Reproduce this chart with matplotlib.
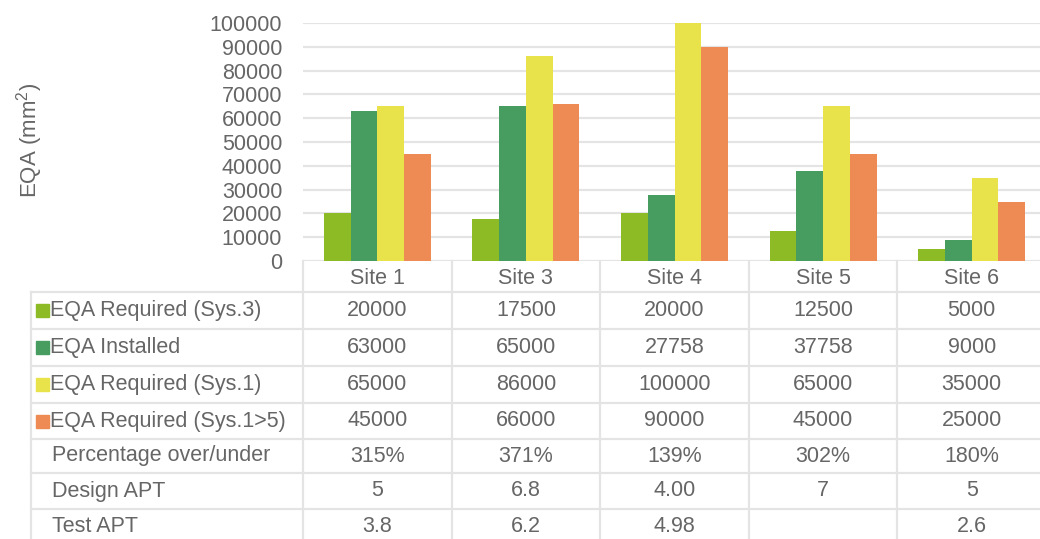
import numpy as np
import matplotlib.pyplot as plt

plt.rcParams['font.family'] = ['Liberation Sans', 'DejaVu Sans']
plt.rcParams['mathtext.fontset'] = 'custom'
plt.rcParams['mathtext.rm'] = 'Liberation Sans'

sites = ["Site 1", "Site 3", "Site 4", "Site 5", "Site 6"]
series_names = ["EQA Required (Sys.3)", "EQA Installed",
                "EQA Required (Sys.1)", "EQA Required (Sys.1>5)"]
req_sys3 = [20000, 17500, 20000, 12500, 5000]
installed = [63000, 65000, 27758, 37758, 9000]
req_sys1 = [65000, 86000, 100000, 65000, 35000]
req_sys1_5 = [45000, 66000, 90000, 45000, 25000]
design_apt = ["5", "6.8", "4.00", "7", "5"]
test_apt = ["3.8", "6.2", "4.98", "", "2.6"]
yticks = np.arange(0, 100001, 10000)

colors = ["#8CBB26", "#479D60", "#E8E34A", "#EE8B54"]
text_col = "#666666"
line_col = "#E4E4E4"
fs = 15.5

series = [req_sys3, installed, req_sys1, req_sys1_5]
pct = ["{:.0f}%".format(100 * i / r) for i, r in zip(installed, req_sys3)]

W, H = 1040, 539
fig = plt.figure(figsize=(W / 100, H / 100), dpi=100)

# bar area
ax_l, ax_r, ax_t, ax_b = 303, 1046, 23, 261
ax = fig.add_axes([ax_l / W, (H - ax_b) / H, (ax_r - ax_l) / W, (ax_b - ax_t) / H])
x = np.arange(len(sites))
bw = 0.18
for i, (vals, c) in enumerate(zip(series, colors)):
    ax.bar(x + (i - 1.5) * bw, vals, bw, color=c, zorder=2)
ax.set_xlim(-0.5, len(sites) - 0.5)
ax.set_ylim(0, 100000)
ax.set_yticks(yticks)
ax.set_yticklabels([str(v) for v in yticks], fontsize=fs, color=text_col)
ax.set_xticks([])
ax.tick_params(axis='y', length=0, pad=15)
ax.yaxis.grid(True, color=line_col, linewidth=1.6)
ax.set_axisbelow(True)
for s in ax.spines.values():
    s.set_visible(False)
fig.text(30 / W, (H - 140) / H, r"EQA (mm$^2$)", rotation=90, fontsize=16,
         color=text_col, ha='center', va='center')

# data table below the bars
tab_l, tab_b = 31, 545
unit = (ax_r - ax_l) / len(sites)
x_left = -0.5 - (ax_l - tab_l) / unit
tab = fig.add_axes([tab_l / W, (H - tab_b) / H, (ax_r - tab_l) / W, (tab_b - ax_b) / H])
tab.set_xlim(x_left, len(sites) - 0.5)
bounds = [0, 31, 68, 105, 142, 178, 212, 248, tab_b - ax_b]
tab.set_ylim(bounds[-1], 0)
tab.axis('off')

for k in range(len(sites) + 1):
    tab.plot([k - 0.5, k - 0.5], [0, bounds[-1]], color=line_col, lw=1.6, clip_on=False)
tab.plot([x_left, x_left], [bounds[1], bounds[-1]], color=line_col, lw=1.6, clip_on=False)
for b in bounds[1:-1]:
    tab.plot([x_left, len(sites) - 0.5], [b, b], color=line_col, lw=1.6, clip_on=False)

for j, s in enumerate(sites):
    tab.text(j, (bounds[0] + bounds[1]) / 2 + 1.5, s, ha='center', va='center',
             fontsize=fs, color=text_col)

rows = [[str(v) for v in vals] for vals in series] + [pct, design_apt, test_apt]
labels = series_names + ["Percentage over/under", "Design APT", "Test APT"]
txt_x = x_left + (50 - tab_l) / unit
key_w = 13 / unit
for r, (lab, vals) in enumerate(zip(labels, rows)):
    yc = (bounds[r + 1] + bounds[r + 2]) / 2
    if r < len(colors):
        tab.add_patch(plt.Rectangle((txt_x - key_w - 1 / unit, yc - 6.5), key_w, 13,
                                    color=colors[r], clip_on=False))
        tab.text(txt_x, yc, lab, ha='left', va='center', fontsize=fs, color=text_col)
    else:
        tab.text(txt_x + 2 / unit, yc, lab, ha='left', va='center', fontsize=fs, color=text_col)
    for j, v in enumerate(vals):
        tab.text(j, yc, v, ha='center', va='center', fontsize=fs, color=text_col)

fig.savefig("out.png", dpi=100)
